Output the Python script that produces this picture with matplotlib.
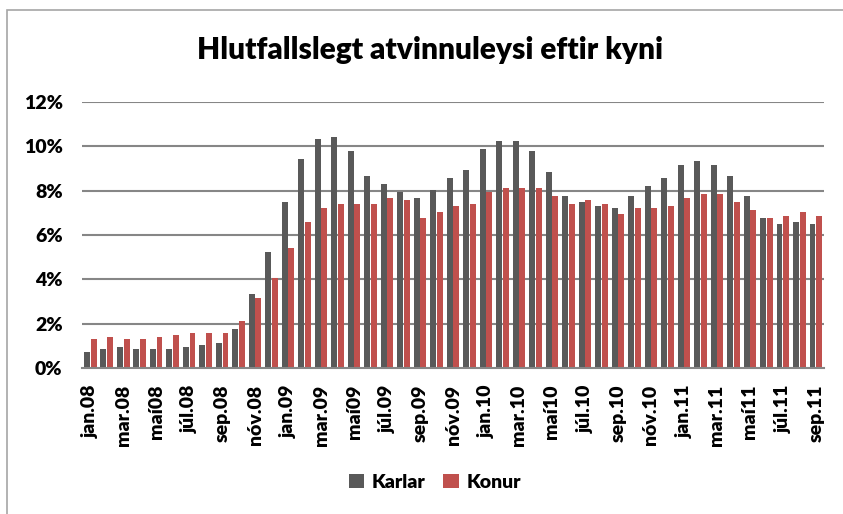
import matplotlib.pyplot as plt
import matplotlib.patches as mpatches
import numpy as np

plt.rcParams['font.family'] = ['Lato', 'DejaVu Sans']

months = ['jan.08', 'feb.08', 'mar.08', 'apr.08', 'maí08', 'jún.08', 'júl.08', 'ágú.08',
          'sep.08', 'okt.08', 'nóv.08', 'des.08',
          'jan.09', 'feb.09', 'mar.09', 'apr.09', 'maí09', 'jún.09', 'júl.09', 'ágú.09',
          'sep.09', 'okt.09', 'nóv.09', 'des.09',
          'jan.10', 'feb.10', 'mar.10', 'apr.10', 'maí10', 'jún.10', 'júl.10', 'ágú.10',
          'sep.10', 'okt.10', 'nóv.10', 'des.10',
          'jan.11', 'feb.11', 'mar.11', 'apr.11', 'maí11', 'jún.11', 'júl.11', 'ágú.11',
          'sep.11']

karlar = [0.74, 0.84, 0.93, 0.84, 0.84, 0.84, 0.93, 1.02, 1.11, 1.74, 3.35, 5.23,
          7.47, 9.44, 10.35, 10.44, 9.80, 8.65, 8.29, 7.92, 7.67, 8.02, 8.56, 8.92,
          9.89, 10.26, 10.26, 9.80, 8.83, 7.74, 7.47, 7.29, 7.22, 7.74, 8.20, 8.56,
          9.17, 9.35, 9.17, 8.65, 7.74, 6.77, 6.50, 6.59, 6.50]

konur = [1.29, 1.38, 1.29, 1.29, 1.38, 1.47, 1.56, 1.56, 1.56, 2.10, 3.17, 4.06,
         5.41, 6.59, 7.22, 7.40, 7.40, 7.40, 7.67, 7.58, 6.77, 7.04, 7.31, 7.40,
         7.92, 8.10, 8.10, 8.10, 7.74, 7.40, 7.58, 7.40, 6.95, 7.22, 7.22, 7.31,
         7.67, 7.83, 7.83, 7.49, 7.13, 6.77, 6.86, 7.04, 6.86]

dark = '#595959'
red = '#C0504D'
grid = '#868686'

fig = plt.figure(figsize=(8.43, 5.14), dpi=100)
ax = fig.add_axes([0.0973, 0.284, 0.8802, 0.5176])

# chart border
fig.patches.append(mpatches.Rectangle((7 / 843, -0.05), 1.1, 1 - 10 / 514 + 0.05,
                                      transform=fig.transFigure, fill=False,
                                      edgecolor='#a6a6a6', linewidth=1.2))

x = np.arange(len(months))
w = 0.36
ax.bar(x - 0.2, karlar, w, color=dark, label='Karlar', zorder=3)
ax.bar(x + 0.2, konur, w, color=red, label='Konur', zorder=3)

ax.set_xlim(-0.5, len(months) - 0.5)
ax.set_ylim(0, 12)
ax.set_yticks(range(0, 13, 2))
ax.set_yticklabels([f'{v}%' for v in range(0, 13, 2)], fontsize=14, fontweight='heavy')
ax.set_xticks(x[::2])
ax.set_xticklabels(months[::2], rotation=90, fontsize=14, fontweight='heavy')
ax.tick_params(axis='both', length=0)
ax.tick_params(axis='y', pad=14)
ax.tick_params(axis='x', pad=12)

for v in range(2, 13, 2):
    ax.axhline(v, color=grid, linewidth=1.5, zorder=1)
for s in ['top', 'right', 'left']:
    ax.spines[s].set_visible(False)
ax.spines['bottom'].set_color(grid)
ax.spines['bottom'].set_linewidth(1.5)
ax.spines['bottom'].set_zorder(4)

fig.text(0.51, 0.903, 'Hlutfallslegt atvinnuleysi eftir kyni', ha='center', va='center',
         fontsize=21.5, fontweight='heavy')

fig.legend(loc='center', bbox_to_anchor=(0.516, 0.062), ncol=2, frameon=False,
           prop={'size': 14, 'weight': 'heavy'}, handlelength=0.8, handleheight=0.8,
           columnspacing=0.9, handletextpad=0.4)

fig.savefig('out.png', dpi=100)
